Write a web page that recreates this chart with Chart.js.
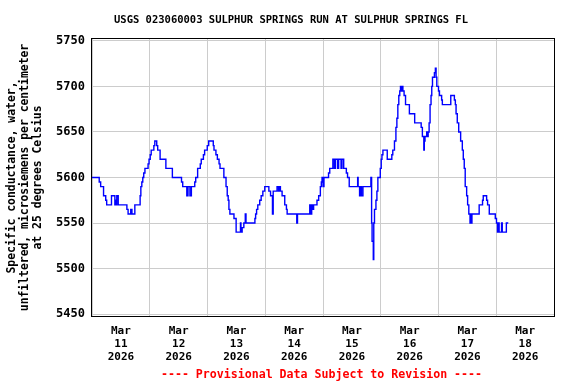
<!DOCTYPE html>
<html><head><meta charset="utf-8">
<script src="https://cdn.jsdelivr.net/npm/chart.js@4/dist/chart.umd.min.js"></script>
<style>html,body{margin:0;padding:0;background:#fff}#wrap{width:576px;height:384px}</style>
</head><body><div id="wrap"><canvas id="c" width="576" height="384"></canvas></div>
<script>
// hours since Mar 11 2026 00:00 at which the reading changes, and the new reading
const hours = [0,3.0,3.6,4.8,5.7,6.1,8.1,9.5,9.8,10.1,10.3,10.9,14.5,15.0,16.1,16.6,17.8,20.0,20.3,20.7,21.1,21.5,22.0,23.3,23.7,24.2,24.6,25.7,26.1,26.9,27.3,28.3,30.7,33.4,37.2,37.7,39.4,39.9,40.7,41.3,42.7,43.1,43.9,45.0,45.4,46.3,46.8,47.9,48.5,50.4,50.7,51.5,52.1,52.8,53.2,54.8,55.7,56.2,56.6,56.9,57.3,59.0,59.9,61.7,61.9,62.4,63.1,63.7,64.0,67.7,68.0,68.4,68.9,69.7,70.3,71.0,71.8,73.5,74.2,75.0,75.3,76.9,77.5,77.8,78.3,79.0,80.1,80.8,81.1,85.1,85.4,90.5,90.9,91.3,91.7,92.1,93.5,94.2,94.9,95.3,95.6,96.0,96.4,98.3,98.8,100.1,100.7,101.2,102.1,102.5,103.5,103.9,104.6,105.7,106.2,106.9,110.4,110.6,111.2,111.6,112.0,112.6,115.9,116.2,116.4,116.9,117.1,117.4,118.0,118.4,118.8,119.8,120.2,120.5,120.9,122.7,124.6,125.0,125.7,126.3,126.7,127.1,127.5,127.9,128.2,128.4,128.7,129.2,129.7,130.3,131.9,134.1,136.8,137.3,137.9,138.1,138.4,139.1,139.5,139.7,140.1,140.5,140.9,141.2,141.5,142.3,142.7,143.0,143.3,144.0,144.4,145.3,145.6,149.1,150.6,151.0,151.3,151.8,152.4,153.2,153.9,154.3,154.7,155.1,155.7,156.1,156.6,157.1,157.3,157.6,157.9,160.9,162.3,162.6,164.0,164.4,165.1,167.6,168.1,168.5,168.9,169.2,170.2,170.5,172.2,173.0];
const values = [5600,5595,5590,5580,5575,5570,5580,5570,5575,5570,5580,5570,5565,5560,5565,5560,5570,5580,5590,5595,5600,5605,5610,5615,5620,5625,5630,5635,5640,5635,5630,5620,5610,5600,5595,5590,5580,5590,5580,5590,5595,5600,5610,5615,5620,5625,5630,5635,5640,5635,5630,5625,5620,5615,5610,5600,5590,5580,5575,5565,5560,5555,5540,5550,5540,5545,5550,5560,5550,5555,5560,5565,5570,5575,5580,5585,5590,5585,5580,5560,5585,5590,5585,5590,5585,5580,5570,5565,5560,5550,5560,5570,5560,5570,5565,5570,5575,5580,5590,5595,5600,5590,5600,5605,5610,5620,5610,5620,5610,5620,5610,5620,5610,5605,5600,5590,5600,5590,5580,5590,5580,5590,5600,5550,5530,5510,5550,5565,5575,5585,5600,5610,5620,5625,5630,5620,5625,5630,5640,5655,5665,5680,5690,5695,5700,5695,5700,5695,5690,5680,5670,5660,5655,5645,5630,5640,5645,5650,5645,5650,5660,5680,5690,5700,5710,5715,5720,5710,5700,5695,5690,5685,5680,5690,5685,5680,5670,5660,5650,5640,5630,5620,5610,5590,5580,5570,5560,5550,5560,5550,5560,5570,5575,5580,5575,5570,5560,5555,5550,5540,5550,5540,5550,5540,5550,5550];
const dayLabels = ['11','12','13','14','15','16','17','18'];
const labelHours = [12,36,60,84,108,132,156,180];
const yTicks = [5450,5500,5550,5600,5650,5700,5750];
const yTitle = ['Specific conductance, water,','unfiltered, microsiemens per centimeter','at 25 degrees Celsius'];
const titleText = 'USGS 023060003 SULPHUR SPRINGS RUN AT SULPHUR SPRINGS FL';
const footerText = '---- Provisional Data Subject to Revision ----';

const FONT = "'DejaVu Sans Mono', monospace";

const frame = {
  id: 'frame',
  afterDraw(chart) {
    const {ctx, chartArea: a} = chart;
    ctx.save();
    ctx.strokeStyle = '#000';
    ctx.lineWidth = 1;
    ctx.strokeRect(Math.round(a.left) - 0.5, Math.round(a.top) - 0.5, Math.round(a.right - a.left) + 1, Math.round(a.bottom - a.top) + 1);
    ctx.fillStyle = '#000';
    ctx.font = "bold 10.5px " + FONT;
    ctx.textAlign = 'center';
    ctx.textBaseline = 'middle';
    ctx.fillText(titleText, 291, 20);
    ctx.fillStyle = '#ff0000';
    ctx.font = "bold 11.6px " + FONT;
    ctx.fillText(footerText, 321.5, 375);
    ctx.restore();
  }
};

new Chart(document.getElementById('c'), {
  type: 'line',
  data: {
    datasets: [{
      data: hours.map((h, i) => ({x: h, y: values[i]})),
      borderColor: '#0000ff',
      borderWidth: 1.4,
      pointRadius: 0,
      stepped: true,
      fill: false,
      xAxisID: 'x',
      yAxisID: 'y'
    }]
  },
  options: {
    responsive: false,
    animation: false,
    devicePixelRatio: 1,
    layout: {padding: {left: 0, right: 22, top: 39, bottom: 0}},
    plugins: {legend: {display: false}, tooltip: {enabled: false}},
    scales: {
      x: {
        type: 'linear', min: 0, max: 192, position: 'bottom',
        ticks: {display: false, stepSize: 24},
        grid: {color: '#cccccc', drawTicks: false, lineWidth: 1},
        border: {display: false},
        afterFit: s => { s.height = 0; }
      },
      xl: {
        type: 'linear', min: 0, max: 192, position: 'bottom',
        grid: {display: false},
        border: {display: false},
        afterBuildTicks: a => { a.ticks = labelHours.map(v => ({value: v})); },
        ticks: {
          autoSkip: false, maxRotation: 0, minRotation: 0, padding: 1, color: '#000',
          font: {family: FONT, size: 11, weight: 'bold', lineHeight: 1.18},
          callback: (v, i) => ['Mar', dayLabels[i], '2026']
        },
        afterFit: s => { s.height = 68; }
      },
      y: {
        type: 'linear', min: 5448, max: 5752,
        afterBuildTicks: a => { a.ticks = yTicks.map(v => ({value: v})); },
        grid: {color: '#cccccc', drawTicks: false, lineWidth: 1},
        border: {display: false},
        ticks: {padding: 7, color: '#000', font: {family: FONT, size: 12, weight: 'bold'},
          callback: v => String(v)},
        title: {
          display: true, text: yTitle, color: '#000',
          padding: {top: 5.5, bottom: 0},
          font: {family: FONT, size: 11.4, weight: 'bold', lineHeight: 1.14}
        },
        afterFit: s => { s.width = 92; }
      }
    }
  },
  plugins: [frame]
});
</script>
</body></html>
